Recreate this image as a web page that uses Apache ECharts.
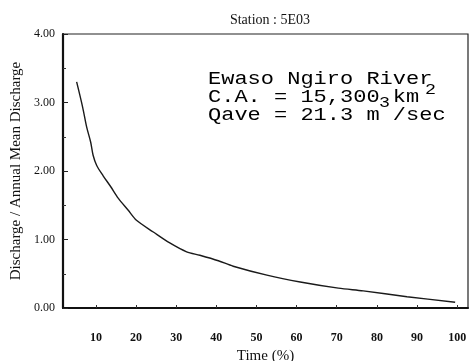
<!DOCTYPE html>
<html>
<head>
<meta charset="utf-8">
<script src="https://cdn.jsdelivr.net/npm/echarts@6/dist/echarts.min.js"></script>
<style>
  html, body { margin: 0; padding: 0; background: #fff; }
  #chart { width: 472px; height: 361px; }
</style>
</head>
<body>
<div id="chart"></div>
<script>
// Flow duration curve, station 5E03
const timePct = [5.2, 6.7, 7.7, 8.7, 9.3, 10.2, 11.8, 13.7, 15.6, 18.0, 20.1, 24.3, 28.4, 32.6, 35.9, 40.5, 44.2, 52.6, 60.9, 70.4, 76.6, 87.5, 99.5];
const dischargeRatio = [3.30, 2.93, 2.64, 2.42, 2.23, 2.08, 1.93, 1.77, 1.60, 1.43, 1.28, 1.11, 0.95, 0.82, 0.77, 0.69, 0.61, 0.48, 0.38, 0.29, 0.25, 0.165, 0.083];
const xTickValues = [10, 20, 30, 40, 50, 60, 70, 80, 90, 100];
const yTickLabels = ['0.00', '1.00', '2.00', '3.00', '4.00'];

const titleText = 'Station : 5E03';
const xName = 'Time (%)';
const yName = 'Discharge / Annual Mean Discharge';
// monospace lines; the blank slot after "m" holds the superscript 3
const infoLines = ['Ewaso Ngiro River', 'C.A. = 15,300 km', 'Qave = 21.3 m /sec'];

const serif = '"Liberation Serif", "DejaVu Serif", serif';
const mono = '"Liberation Mono", "DejaVu Sans Mono", monospace';
const ink = '#111';

const chart = echarts.init(document.getElementById('chart'), null, { renderer: 'canvas' });

const points = timePct.map((t, i) => [t, dischargeRatio[i]]);

const infoText = (text, x, y, size) => ({
  type: 'text', x, y, scaleX: 1.222,
  style: { text, font: size + 'px ' + mono, fill: '#000', textVerticalAlign: 'middle' }
});

chart.setOption({
  animation: false,
  backgroundColor: '#fff',
  title: {
    text: titleText,
    left: 265, top: 8, textAlign: 'center',
    textStyle: { fontFamily: serif, fontSize: 14, fontWeight: 'normal', color: ink }
  },
  grid: {
    left: 63, right: 4, top: 34, bottom: 53,
    outerBoundsMode: 'none', containLabel: false,
    show: true, borderColor: '#222', borderWidth: 1.2, backgroundColor: 'transparent'
  },
  xAxis: {
    type: 'value', min: 1.8, max: 102.7,
    name: xName, nameLocation: 'middle', nameGap: 34,
    nameTextStyle: { fontFamily: serif, fontSize: 15, color: ink },
    axisLine: { show: true, onZero: false, lineStyle: { color: '#111', width: 2 } },
    axisTick: { show: true, inside: true, length: 3, customValues: xTickValues, lineStyle: { color: '#333' } },
    axisLabel: {
      customValues: xTickValues, margin: 24,
      fontFamily: serif, fontSize: 12, fontWeight: 'bold', color: ink
    },
    splitLine: { show: false }
  },
  yAxis: {
    type: 'value', min: 0, max: 4, interval: 1,
    name: yName, nameLocation: 'middle', nameGap: 35,
    nameTextStyle: { fontFamily: serif, fontSize: 15, color: ink },
    axisLine: { show: true, lineStyle: { color: '#111', width: 2.2 } },
    axisTick: { show: true, inside: true, length: 5, lineStyle: { color: '#222' } },
    minorTick: { show: true, splitNumber: 2, length: 3, lineStyle: { color: '#333' } },
    axisLabel: {
      margin: 8, fontFamily: serif, fontSize: 12, color: ink,
      formatter: (v) => yTickLabels[Math.round(v)] ?? v.toFixed(2)
    },
    splitLine: { show: false }
  },
  series: [{
    type: 'line',
    data: points,
    smooth: 0.3,
    showSymbol: false,
    lineStyle: { color: '#1a1a1a', width: 1.4 }
  }],
  graphic: [
    infoText(infoLines[0], 208, 79, 18),
    infoText(infoLines[1], 208, 97, 18),
    infoText(infoLines[2], 208, 115, 18),
    infoText('2', 425, 90, 15),
    infoText('3', 379, 103, 15)
  ]
});
</script>
</body>
</html>
